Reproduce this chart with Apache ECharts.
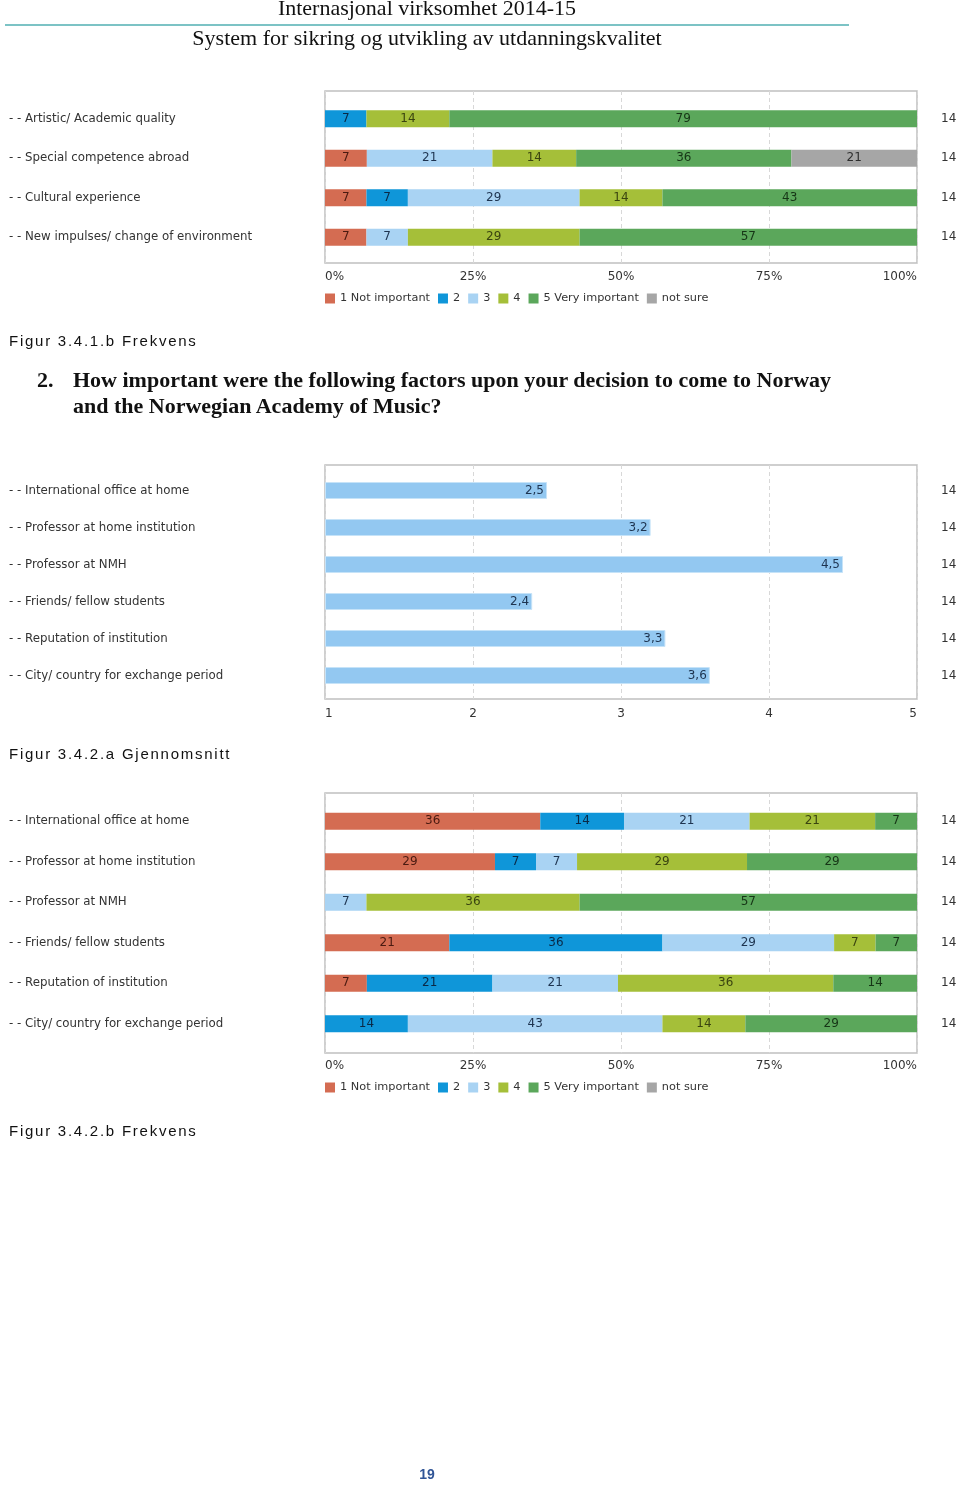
<!DOCTYPE html>
<html>
<head>
<meta charset="utf-8">
<script src="https://cdn.jsdelivr.net/npm/echarts@6/dist/echarts.min.js"></script>
<style>
html,body{margin:0;padding:0;background:#fff;}
#page{position:relative;width:960px;height:1486px;overflow:hidden;background:#fff;}
#chart{position:absolute;left:0;top:0;width:960px;height:1486px;}
.t{position:absolute;white-space:nowrap;color:#111;}
.hdr{font-family:"Liberation Serif","DejaVu Serif",serif;font-size:22px;line-height:22px;left:5px;width:844px;text-align:center;}
.cap{font-family:"Liberation Sans",Arial,sans-serif;font-size:15px;line-height:15px;letter-spacing:1.75px;left:9px;color:#111;}
.q{font-family:"Liberation Serif","DejaVu Serif",serif;font-weight:bold;font-size:22px;line-height:22px;color:#111;}
</style>
</head>
<body>
<div id="page">
<div id="chart"></div>
<div class="t hdr" style="top:-3px;">Internasjonal virksomhet 2014-15</div>
<div class="t" style="left:5px;top:24px;width:844px;height:2px;background:#7cc3c5;"></div>
<div class="t hdr" style="top:27px;">System for sikring og utvikling av utdanningskvalitet</div>
<div class="t cap" style="top:333px;">Figur 3.4.1.b Frekvens</div>
<div class="t q" style="left:37px;top:369px;">2.</div>
<div class="t q" style="left:73px;top:369px;">How important were the following factors upon your decision to come to Norway</div>
<div class="t q" style="left:73px;top:395px;">and the Norwegian Academy of Music?</div>
<div class="t cap" style="top:746px;">Figur 3.4.2.a Gjennomsnitt</div>
<div class="t cap" style="top:1123px;">Figur 3.4.2.b Frekvens</div>
<div class="t" style="left:397px;width:60px;text-align:center;top:1466px;font-family:'Liberation Sans',Arial,sans-serif;font-weight:bold;font-size:14px;line-height:16px;color:#2f5496;">19</div>
</div>
<script>
// ---------- data ----------
const levels = ['1 Not important', '2', '3', '4', '5 Very important', 'not sure'];

// Figure 3.4.1.b (percent per answer level)
const factors1 = ['Artistic/ Academic quality', 'Special competence abroad', 'Cultural experience', 'New impulses/ change of environment'];
const f1_l1 = [0, 7, 7, 7];
const f1_l2 = [7, 0, 7, 0];
const f1_l3 = [0, 21, 29, 7];
const f1_l4 = [14, 14, 14, 29];
const f1_l5 = [79, 36, 43, 57];
const f1_ns = [0, 21, 0, 0];
const n1 = [14, 14, 14, 14];

// Figure 3.4.2.a (mean)
const factors2 = ['International office at home', 'Professor at home institution', 'Professor at NMH', 'Friends/ fellow students', 'Reputation of institution', 'City/ country for exchange period'];
const mean2 = [2.5, 3.2, 4.5, 2.4, 3.3, 3.6];
const n2 = [14, 14, 14, 14, 14, 14];

// Figure 3.4.2.b (percent per answer level)
const factors3 = ['International office at home', 'Professor at home institution', 'Professor at NMH', 'Friends/ fellow students', 'Reputation of institution', 'City/ country for exchange period'];
const f3_l1 = [36, 29, 0, 21, 7, 0];
const f3_l2 = [14, 7, 0, 36, 21, 14];
const f3_l3 = [21, 7, 7, 29, 21, 43];
const f3_l4 = [21, 29, 36, 7, 36, 14];
const f3_l5 = [7, 29, 57, 7, 14, 29];
const f3_ns = [0, 0, 0, 0, 0, 0];
const n3 = [14, 14, 14, 14, 14, 14];

const pctTicks = [0, 25, 50, 75, 100];
const meanTicks = [1, 2, 3, 4, 5];

// ---------- style ----------
const colors = ['#d46c52', '#0f96d9', '#a9d3f3', '#a5bf39', '#5ba75b', '#a6a6a6'];
const labelColors = ['#4a1a10', '#0a2946', '#1e3450', '#3a4410', '#163516', '#2e2e2e'];
const FONT = 'DejaVu Sans';

const chart = echarts.init(document.getElementById('chart'), null, {renderer: 'canvas'});

function boxGrid(top, height) {
  return {left: 325, top: top, width: 592, height: height, show: true,
    borderColor: '#c0c0c0', borderWidth: 1.5, backgroundColor: 'transparent'};
}
function barGrid(top, height) {
  return {left: 325, top: top, width: 592, height: height};
}
function labelAxisX(gi, min, max, interval, fmt, margin) {
  return {gridIndex: gi, type: 'value', min: min, max: max, interval: interval,
    axisLine: {show: false}, axisTick: {show: false},
    splitLine: {show: true, lineStyle: {color: '#d8d8d8', type: [4, 3], width: 1}},
    axisLabel: {show: true, formatter: fmt, margin: margin, color: '#333', fontSize: 12, fontFamily: FONT,
      alignMinLabel: 'left', alignMaxLabel: 'right'}};
}
function hiddenX(gi, min, max, extra) {
  return Object.assign({gridIndex: gi, type: 'value', min: min, max: max, show: false, splitLine: {show: false}}, extra || {});
}
function hiddenY(gi) {
  return {gridIndex: gi, type: 'value', show: false, splitLine: {show: false}};
}
function catLeft(gi, cats) {
  return {gridIndex: gi, type: 'category', data: cats, inverse: true, position: 'left',
    axisLine: {show: false}, axisTick: {show: false}, splitLine: {show: false},
    axisLabel: {align: 'left', margin: 316, color: '#333', fontSize: 11.8, fontFamily: FONT,
      formatter: v => '- - ' + v}};
}
function catRight(gi, cats, ns) {
  return {gridIndex: gi, type: 'category', data: cats, inverse: true, position: 'right',
    axisLine: {show: false}, axisTick: {show: false}, splitLine: {show: false},
    axisLabel: {align: 'left', margin: 24, color: '#333', fontSize: 12, fontFamily: FONT,
      formatter: (v, i) => String(ns[i])}};
}

function stackedSeries(rows, xi, yi, stackName) {
  const sums = rows[0].map((_, r) => rows.reduce((s, arr) => s + arr[r], 0));
  return rows.map((arr, k) => ({
    name: levels[k], type: 'bar', stack: stackName, xAxisIndex: xi, yAxisIndex: yi,
    barWidth: 17,
    itemStyle: {color: colors[k]},
    label: {show: true, position: 'inside', fontSize: 12, fontFamily: FONT, color: labelColors[k],
      formatter: p => arr[p.dataIndex] > 0 ? String(arr[p.dataIndex]) : ''},
    emphasis: {disabled: true},
    data: arr.map((v, r) => v > 0 ? v * 100 / sums[r] : 0)
  }));
}

const legendBase = {left: 325, padding: 0, itemWidth: 10, itemHeight: 10, itemGap: 8, icon: 'rect',
  selectedMode: false, data: levels, textStyle: {fontFamily: FONT, fontSize: 11.3, color: '#333'}};

const option = {
  animation: false,
  textStyle: {fontFamily: FONT},
  grid: [
    boxGrid(91, 172), barGrid(99, 158),
    boxGrid(465, 234), barGrid(472, 222),
    boxGrid(793, 260), barGrid(801, 243)
  ],
  xAxis: [
    labelAxisX(0, pctTicks[0], pctTicks[pctTicks.length - 1], pctTicks[1] - pctTicks[0], '{value}%', 8),
    hiddenX(1, 0, 100),
    labelAxisX(2, meanTicks[0], meanTicks[meanTicks.length - 1], meanTicks[1] - meanTicks[0], '{value}', 9),
    hiddenX(3, meanTicks[0], meanTicks[meanTicks.length - 1], {startValue: meanTicks[0]}),
    labelAxisX(4, pctTicks[0], pctTicks[pctTicks.length - 1], pctTicks[1] - pctTicks[0], '{value}%', 7),
    hiddenX(5, 0, 100)
  ],
  yAxis: [
    hiddenY(0),
    catLeft(1, factors1), catRight(1, factors1, n1),
    hiddenY(2),
    catLeft(3, factors2), catRight(3, factors2, n2),
    hiddenY(4),
    catLeft(5, factors3), catRight(5, factors3, n3)
  ],
  legend: [
    Object.assign({top: 293}, legendBase),
    Object.assign({top: 1082}, legendBase)
  ],
  series: [].concat(
    stackedSeries([f1_l1, f1_l2, f1_l3, f1_l4, f1_l5, f1_ns], 1, 1, 'fig1'),
    [{
      name: 'Gjennomsnitt', type: 'bar', xAxisIndex: 3, yAxisIndex: 4, barWidth: 17, clip: true,
      itemStyle: {color: '#93c8f1', borderColor: '#c6e3f8', borderWidth: 1},
      label: {show: true, position: 'insideRight', distance: 3, fontSize: 12, fontFamily: FONT, color: '#1e3450',
        formatter: p => String(p.value).replace('.', ',')},
      emphasis: {disabled: true},
      data: mean2
    }],
    stackedSeries([f3_l1, f3_l2, f3_l3, f3_l4, f3_l5, f3_ns], 5, 7, 'fig3')
  )
};
chart.setOption(option);
</script>
</body>
</html>
